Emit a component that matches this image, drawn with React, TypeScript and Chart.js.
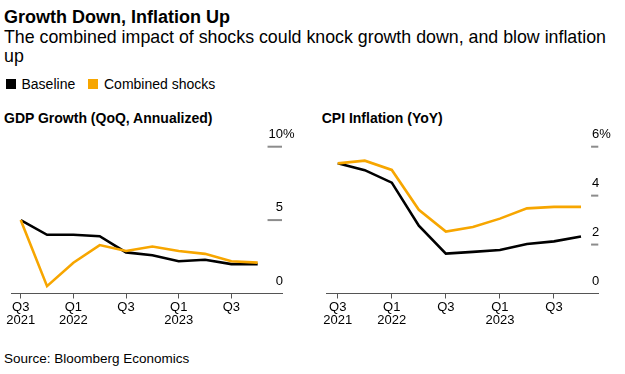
import React, { useEffect, useRef } from "react";
import { Chart, registerables } from "chart.js";

Chart.register(...registerables);

const QUARTERS = ["Q3 2021", "Q4 2021", "Q1 2022", "Q2 2022", "Q3 2022", "Q4 2022", "Q1 2023", "Q2 2023", "Q3 2023", "Q4 2023"];
const GDP_BASELINE = [5.0, 4.0, 4.0, 3.9, 2.8, 2.6, 2.2, 2.3, 2.0, 2.0];
const GDP_COMBINED = [5.0, 0.5, 2.1, 3.3, 2.9, 3.2, 2.9, 2.7, 2.2, 2.1];
const CPI_BASELINE = [5.32, 5.04, 4.53, 2.77, 1.63, 1.7, 1.78, 2.02, 2.13, 2.33];
const CPI_COMBINED = [5.32, 5.43, 5.05, 3.42, 2.53, 2.72, 3.06, 3.48, 3.54, 3.54];
const X_TICK_INDEX = [0, 2, 4, 6, 8];
const X_TICK_LABELS = [["Q3", "2021"], ["Q1", "2022"], ["Q3"], ["Q1", "2023"], ["Q3"]];
const GDP_Y_TICKS = [0, 5, 10];
const CPI_Y_TICKS = [0, 2, 4, 6];
const SERIES_NAMES = ["Baseline", "Combined shocks"];

const FONT = "'Liberation Sans', Arial, Helvetica, sans-serif";
const ORANGE = "#f7a600";
const BLACK = "#000000";

const yLabelPlugin = {
  id: "yLabels",
  afterDraw(chart: any) {
    const y = chart.scales.y;
    const ca = chart.chartArea;
    const ctx = chart.ctx;
    ctx.save();
    ctx.font = `13px ${FONT}`;
    let widest = 0;
    y.ticks.forEach((t: any) => {
      widest = Math.max(widest, ctx.measureText(String(t.value)).width);
    });
    y.ticks.forEach((t: any) => {
      const py = y.getPixelForValue(t.value);
      if (t.value !== y.min) {
        ctx.strokeStyle = "#8c8c8c";
        ctx.lineWidth = 2;
        ctx.beginPath();
        ctx.moveTo(ca.right - widest, py);
        ctx.lineTo(ca.right, py);
        ctx.stroke();
      }
      ctx.fillStyle = "#000";
      ctx.textBaseline = "alphabetic";
      ctx.textAlign = "right";
      ctx.fillText(String(t.value), ca.right + 1, py - 8.7);
      if (t.value === y.max) {
        ctx.textAlign = "left";
        ctx.fillText("%", ca.right + 1, py - 8.7);
      }
    });
    ctx.restore();
  },
};

type PanelProps = {
  baseline: number[];
  combined: number[];
  yTicks: number[];
  xMin: number;
  xMax: number;
  pad: { left: number; right: number; top: number };
  width: number;
  height: number;
  axisHeight: number;
};

function Panel(p: PanelProps) {
  const ref = useRef<HTMLCanvasElement>(null);
  useEffect(() => {
    if (!ref.current) return;
    const toPts = (arr: number[]) => arr.map((v, i) => ({ x: i, y: v }));
    const chart = new Chart(ref.current, {
      type: "line",
      data: {
        labels: QUARTERS,
        datasets: [
          {
            label: SERIES_NAMES[1],
            data: toPts(p.combined),
            borderColor: ORANGE,
            backgroundColor: ORANGE,
            borderWidth: 2.6,
            pointRadius: 0,
            tension: 0,
            order: 0,
          },
          {
            label: SERIES_NAMES[0],
            data: toPts(p.baseline),
            borderColor: BLACK,
            backgroundColor: BLACK,
            borderWidth: 2.6,
            pointRadius: 0,
            tension: 0,
            order: 1,
          },
        ],
      },
      options: {
        animation: false,
        responsive: false,
        maintainAspectRatio: false,
        layout: { padding: { left: p.pad.left, right: p.pad.right, top: p.pad.top, bottom: 0 } },
        plugins: { legend: { display: false }, tooltip: { enabled: false }, title: { display: false } },
        font: { family: FONT },
        scales: {
          x: {
            type: "linear",
            min: p.xMin,
            max: p.xMax,
            afterBuildTicks: (axis: any) => {
              axis.ticks = X_TICK_INDEX.map((v) => ({ value: v }));
            },
            afterFit: (axis: any) => {
              axis.height = p.axisHeight;
            },
            ticks: {
              autoSkip: false,
              maxRotation: 0,
              minRotation: 0,
              padding: 2.5,
              color: "#000",
              font: { family: FONT, size: 13, lineHeight: 1 },
              callback: (_v: any, i: number) => X_TICK_LABELS[i],
            },
            grid: { display: true, drawOnChartArea: false, drawTicks: true, tickLength: 5, color: "#555", lineWidth: 1 },
            border: { display: true, color: "#555", width: 1 },
          },
          y: {
            type: "linear",
            position: "right",
            min: p.yTicks[0],
            max: p.yTicks[p.yTicks.length - 1],
            afterBuildTicks: (axis: any) => {
              axis.ticks = p.yTicks.map((v) => ({ value: v }));
            },
            afterFit: (axis: any) => {
              axis.width = 0;
            },
            ticks: { display: false },
            grid: { display: false },
            border: { display: false },
          },
        },
      } as any,
      plugins: [yLabelPlugin],
    });
    return () => chart.destroy();
  }, []);
  return <canvas ref={ref} width={p.width} height={p.height} style={{ width: p.width, height: p.height, display: "block" }} />;
}

function Text(props: { x: number; y: number; size: number; bold?: boolean; children: React.ReactNode }) {
  return (
    <div
      style={{
        position: "absolute",
        left: props.x,
        top: props.y,
        fontSize: props.size,
        lineHeight: `${props.size}px`,
        fontWeight: props.bold ? 700 : 400,
        whiteSpace: "nowrap",
        color: "#000",
      }}
    >
      {props.children}
    </div>
  );
}

export default function App() {
  useEffect(() => {
    document.body.style.margin = "0";
  }, []);
  return (
    <div style={{ position: "relative", width: 625, height: 374, fontFamily: FONT, background: "#fff", overflow: "hidden" }}>
      <Text x={4} y={7.5} size={18} bold>
        Growth Down, Inflation Up
      </Text>
      <Text x={4} y={29.4} size={17.8}>
        The combined impact of shocks could knock growth down, and blow inflation
      </Text>
      <Text x={4} y={48.3} size={17.8}>
        up
      </Text>
      <div style={{ position: "absolute", left: 6, top: 79, width: 10, height: 10, background: BLACK }} />
      <Text x={21.5} y={76.5} size={14}>
        {SERIES_NAMES[0]}
      </Text>
      <div style={{ position: "absolute", left: 88, top: 79, width: 10, height: 10, background: ORANGE }} />
      <Text x={104} y={76.5} size={14}>
        {SERIES_NAMES[1]}
      </Text>
      <Text x={4} y={110.8} size={14} bold>
        GDP Growth (QoQ, Annualized)
      </Text>
      <Text x={321.7} y={110.8} size={14} bold>
        CPI Inflation (YoY)
      </Text>
      <div style={{ position: "absolute", left: 0, top: 125 }}>
        <Panel
          baseline={GDP_BASELINE}
          combined={GDP_COMBINED}
          yTicks={GDP_Y_TICKS}
          xMin={-0.342}
          xMax={9.923}
          pad={{ left: 11.7, right: 28, top: 21.7 }}
          width={310}
          height={215}
          axisHeight={46.5}
        />
      </div>
      <div style={{ position: "absolute", left: 310, top: 125 }}>
        <Panel
          baseline={CPI_BASELINE}
          combined={CPI_COMBINED}
          yTicks={CPI_Y_TICKS}
          xMin={-0.408}
          xMax={9.64}
          pad={{ left: 16.7, right: 26.7, top: 21.7 }}
          width={315}
          height={215}
          axisHeight={46.5}
        />
      </div>
      <Text x={4} y={351.8} size={13.5}>
        Source: Bloomberg Economics
      </Text>
    </div>
  );
}
